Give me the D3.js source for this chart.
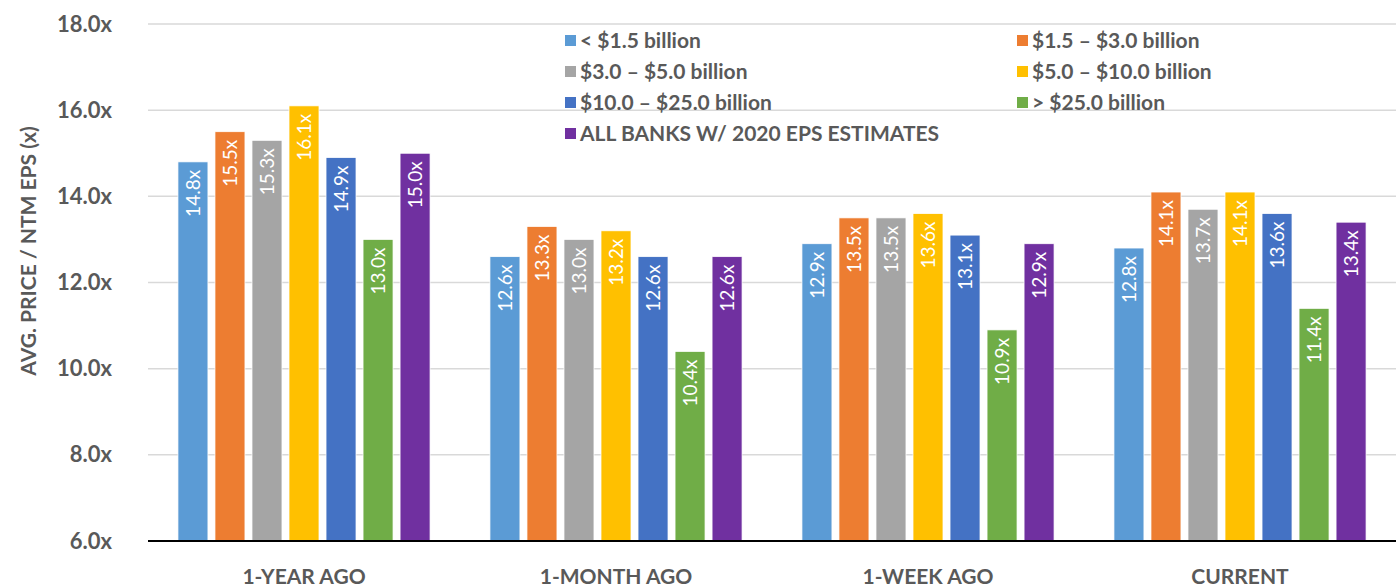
<!DOCTYPE html>
<html>
<head>
<meta charset="utf-8">
<script src="https://cdn.jsdelivr.net/npm/d3@7"></script>
<style>
  body { margin: 0; background: #fff; }
  svg { display: block; font-family: Lato, "Open Sans", sans-serif; }
</style>
</head>
<body>
<div id="chart"></div>
<script>
// categories and series
var periods = ["1-YEAR AGO", "1-MONTH AGO", "1-WEEK AGO", "CURRENT"];
var seriesNames = ["< $1.5 billion", "$1.5 – $3.0 billion", "$3.0 – $5.0 billion",
  "$5.0 – $10.0 billion", "$10.0 – $25.0 billion", "> $25.0 billion",
  "ALL BANKS W/ 2020 EPS ESTIMATES"];
var seriesColors = ["#5B9BD5", "#ED7D31", "#A5A5A5", "#FFC000", "#4472C4", "#70AD47", "#7030A0"];

// values per series, one per period
var under1_5 = [14.8, 12.6, 12.9, 12.8];
var from1_5to3 = [15.5, 13.3, 13.5, 14.1];
var from3to5 = [15.3, 13.0, 13.5, 13.7];
var from5to10 = [16.1, 13.2, 13.6, 14.1];
var from10to25 = [14.9, 12.6, 13.1, 13.6];
var over25 = [13.0, 10.4, 10.9, 11.4];
var allBanks = [15.0, 12.6, 12.9, 13.4];
var seriesValues = [under1_5, from1_5to3, from3to5, from5to10, from10to25, over25, allBanks];

var yTicks = [6, 8, 10, 12, 14, 16, 18];

var width = 1396, height = 587;
var margin = {top: 24, right: 0, bottom: 46, left: 148};
var innerW = width - margin.left - margin.right,
    innerH = height - margin.top - margin.bottom;

var svg = d3.select("#chart").append("svg")
    .attr("width", width)
    .attr("height", height);

var g = svg.append("g")
    .attr("transform", "translate(" + margin.left + "," + margin.top + ")");

var x0 = d3.scaleBand().domain(periods).range([0, innerW])
    .paddingInner(0.192).paddingOuter(0.096);
var x1 = d3.scaleBand().domain(d3.range(seriesNames.length)).range([0, x0.bandwidth()])
    .paddingInner(0.19).paddingOuter(0);
var y = d3.scaleLinear().domain([6, 18]).range([innerH, 0]);

// gridlines
g.append("g").selectAll("line")
    .data(yTicks.slice(1))
    .enter().append("line")
    .attr("x1", 0).attr("x2", innerW)
    .attr("y1", function (d) { return y(d); })
    .attr("y2", function (d) { return y(d); })
    .attr("stroke", "#D9D9D9")
    .attr("stroke-width", 1.5);

// y axis labels
var yAxis = g.append("g")
    .attr("transform", "translate(-33,0)")
    .call(d3.axisLeft(y).tickValues(yTicks).tickSize(0).tickFormat(function (d) { return d.toFixed(1) + "x"; }));
yAxis.select(".domain").remove();
yAxis.selectAll("text")
    .attr("fill", "#595959")
    .style("font-size", "22px")
    .style("font-weight", "bold")
    .style("font-family", "Lato, sans-serif");

// y axis title
svg.append("text")
    .attr("transform", "translate(36,251) rotate(-90)")
    .attr("text-anchor", "middle")
    .attr("fill", "#595959")
    .style("font-size", "21px")
    .style("font-weight", "bold")
    .text("AVG. PRICE / NTM EPS (x)");

// bars
var rows = periods.map(function (p, i) {
  return {period: p, values: seriesValues.map(function (s, j) { return {k: j, v: s[i]}; })};
});

var groups = g.append("g").selectAll("g")
    .data(rows)
    .enter().append("g")
    .attr("transform", function (d) { return "translate(" + x0(d.period) + ",0)"; });

groups.selectAll("rect")
    .data(function (d) { return d.values; })
    .enter().append("rect")
    .attr("x", function (d) { return x1(d.k); })
    .attr("width", x1.bandwidth())
    .attr("y", function (d) { return y(d.v); })
    .attr("height", function (d) { return innerH - y(d.v); })
    .attr("fill", function (d) { return seriesColors[d.k]; })
    .attr("stroke", "#fff")
    .attr("stroke-width", 0.75);

groups.selectAll("text")
    .data(function (d) { return d.values; })
    .enter().append("text")
    .attr("transform", function (d) {
      return "translate(" + (x1(d.k) + x1.bandwidth() / 2 + 7) + "," + (y(d.v) + 8) + ") rotate(-90)";
    })
    .attr("text-anchor", "end")
    .attr("fill", "#fff")
    .style("font-size", "19px")
    .text(function (d) { return d.v.toFixed(1) + "x"; });

// baseline
g.append("line")
    .attr("x1", 0).attr("x2", innerW)
    .attr("y1", innerH).attr("y2", innerH)
    .attr("stroke", "#000")
    .attr("stroke-width", 2);

// x labels
var xAxis = g.append("g")
    .attr("transform", "translate(0," + innerH + ")")
    .call(d3.axisBottom(x0).tickSize(0));
xAxis.select(".domain").remove();
xAxis.selectAll("text")
    .attr("y", 43)
    .attr("dy", 0)
    .attr("fill", "#595959")
    .style("font-size", "21px")
    .style("font-weight", "bold")
    .style("font-family", "Lato, sans-serif");

// legend
var legendPos = [
  [565, 40], [1017, 40],
  [565, 71], [1017, 71],
  [565, 102], [1017, 102],
  [565, 133]
];
var legend = svg.append("g").selectAll("g")
    .data(seriesNames)
    .enter().append("g")
    .attr("transform", function (d, i) { return "translate(" + legendPos[i][0] + "," + legendPos[i][1] + ")"; });
legend.append("rect")
    .attr("x", 0).attr("y", -5)
    .attr("width", 11).attr("height", 11)
    .attr("fill", function (d, i) { return seriesColors[i]; });
legend.append("text")
    .attr("x", 15)
    .attr("dy", "0.36em")
    .attr("fill", "#595959")
    .style("font-size", "21px")
    .style("font-weight", "bold")
    .text(function (d) { return d; });
</script>
</body>
</html>
